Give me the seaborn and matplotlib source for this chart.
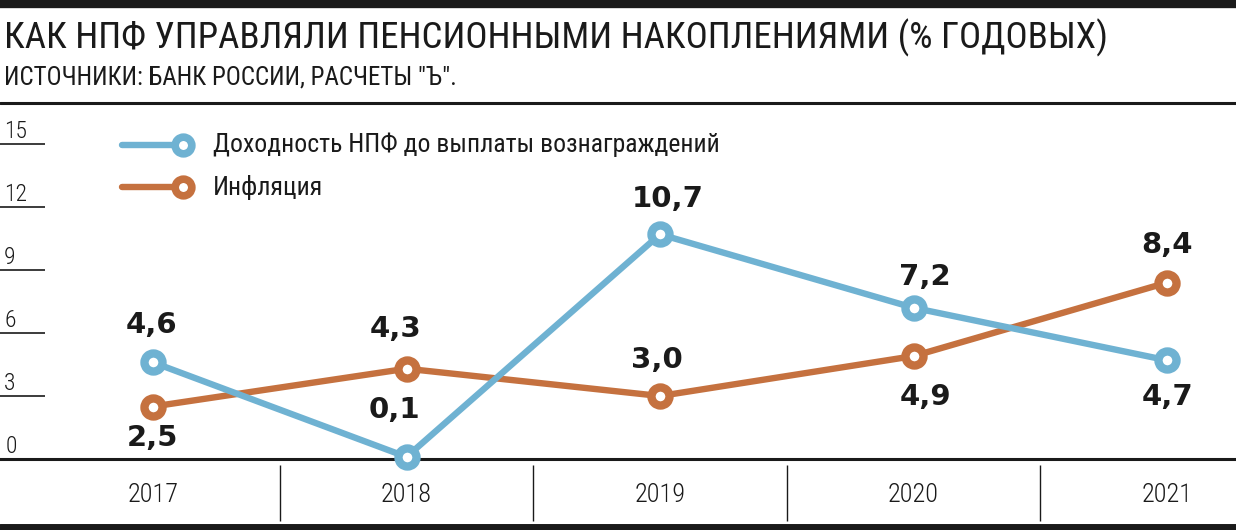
import matplotlib
matplotlib.use('Agg')
import matplotlib.pyplot as plt
from matplotlib import font_manager
import seaborn as sns
import pandas as pd

years = ['2017', '2018', '2019', '2020', '2021']
npf_yield = [4.6, 0.1, 10.7, 7.2, 4.7]
inflation = [2.5, 4.3, 3.0, 4.9, 8.4]
yticks = [0, 3, 6, 9, 12, 15]
series_names = ['Доходность НПФ до выплаты вознаграждений', 'Инфляция']
title = 'КАК НПФ УПРАВЛЯЛИ ПЕНСИОННЫМИ НАКОПЛЕНИЯМИ (% ГОДОВЫХ)'
subtitle = 'ИСТОЧНИКИ: БАНК РОССИИ, РАСЧЕТЫ "Ъ".'

# label offsets from markers, in pixels (style only)
npf_off = [(-2, 37), (-12, 47), (8, 35), (11, 31), (1, -37)]
inf_off = [(-1, -31), (-11, 40), (-3, 36), (12, -41), (0, 38)]

sns.set_theme(style='white')
avail = {f.name for f in font_manager.fontManager.ttflist}
cond = next((f for f in ['Roboto Condensed', 'Liberation Sans Narrow',
                         'Archivo Narrow', 'Liberation Sans'] if f in avail), 'DejaVu Sans')
plt.rcParams['font.family'] = [cond, 'DejaVu Sans']
LW = 'light'

W, H = 1236, 530
fig = plt.figure(figsize=(W / 100, H / 100), dpi=100)
fig.patch.set_facecolor('white')

blue = '#6fb2d2'
orange = '#c5713f'
dark = '#1a1a1a'

# axes: y=0 at 459px, top at 115px
ax = fig.add_axes([0, (H - 459) / H, 1, (459 - 115) / H])
ax.set_xlim(-0.6036, 4.272)
ax.set_ylim(0, (459 - 115) / 21)
ax.set_facecolor('none')
for s in ['top', 'right', 'left']:
    ax.spines[s].set_visible(False)
ax.spines['bottom'].set_linewidth(2.2)
ax.spines['bottom'].set_color(dark)

df = pd.DataFrame({'x': list(range(len(years))) * 2,
                   'value': npf_yield + inflation,
                   'series': [series_names[0]] * 5 + [series_names[1]] * 5})

for name, col, z in [(series_names[1], orange, 3), (series_names[0], blue, 4)]:
    sns.lineplot(data=df[df.series == name], x='x', y='value', color=col, ax=ax,
                 linewidth=4.6, marker='o', markersize=13, markeredgewidth=6,
                 markerfacecolor='white', markeredgecolor=col, zorder=z,
                 legend=False, clip_on=False)

for vals, offs in [(npf_yield, npf_off), (inflation, inf_off)]:
    for i, (v, (dx, dy)) in enumerate(zip(vals, offs)):
        ax.annotate(f'{v:.1f}'.replace('.', ','), (i, v),
                    xytext=(dx * 0.72, dy * 0.72),
                    textcoords='offset points', ha='center', va='center',
                    fontsize=21, fontweight='bold', color=dark,
                    family=['DejaVu Sans'], zorder=6)

ax.set_xticks(range(len(years)))
ax.set_xticklabels(years, fontsize=19, color=dark, fontweight=LW)
ax.tick_params(axis='x', length=0, pad=17)
ax.set_yticks([])
ax.set_xlabel('')
ax.set_ylabel('')

ytr = ax.get_yaxis_transform()
for t in yticks:
    if t > 0:
        ax.hlines(t, 0, 45 / W, transform=ytr, color=dark, lw=1.2, clip_on=False)
    ax.text((4 if t else 6) / W, t + 0.06, str(t), transform=ytr, ha='left',
            va='bottom', fontsize=17, color=dark, fontweight=LW)

xtr = ax.get_xaxis_transform()
ah = 459 - 115
for i in range(len(years) - 1):
    ax.vlines(i + 0.5, -(465 - 459) / ah, -(521 - 459) / ah, transform=xtr,
              color=dark, lw=1, clip_on=False)

# legend
for k, (name, col) in enumerate(zip(series_names, [blue, orange])):
    y = 1 - (145 + 42 * k) / H
    fig.add_artist(plt.Line2D([122 / W, 183 / W], [y, y], color=col, lw=4.6,
                              solid_capstyle='round'))
    fig.add_artist(plt.Line2D([183 / W], [y], marker='o', markersize=12,
                              markeredgewidth=5.5, markerfacecolor='white',
                              markeredgecolor=col, lw=0))
    fig.text(213 / W, y, name, ha='left', va='center', fontsize=18.5, color=dark)

# header
fig.add_artist(plt.Line2D([0, 1], [1 - 4 / H, 1 - 4 / H], color=dark, lw=6))
fig.text(4 / W, 1 - 38 / H, title, ha='left', va='center', fontsize=26.6, color=dark)
fig.text(4 / W, 1 - 77 / H, subtitle, ha='left', va='center', fontsize=18, color=dark)
fig.add_artist(plt.Line2D([0, 1], [1 - 103 / H, 1 - 103 / H], color=dark, lw=2.2))
fig.add_artist(plt.Line2D([0, 1], [1 - 527 / H, 1 - 527 / H], color=dark, lw=5))

fig.savefig('out.png', dpi=100, facecolor='white')
